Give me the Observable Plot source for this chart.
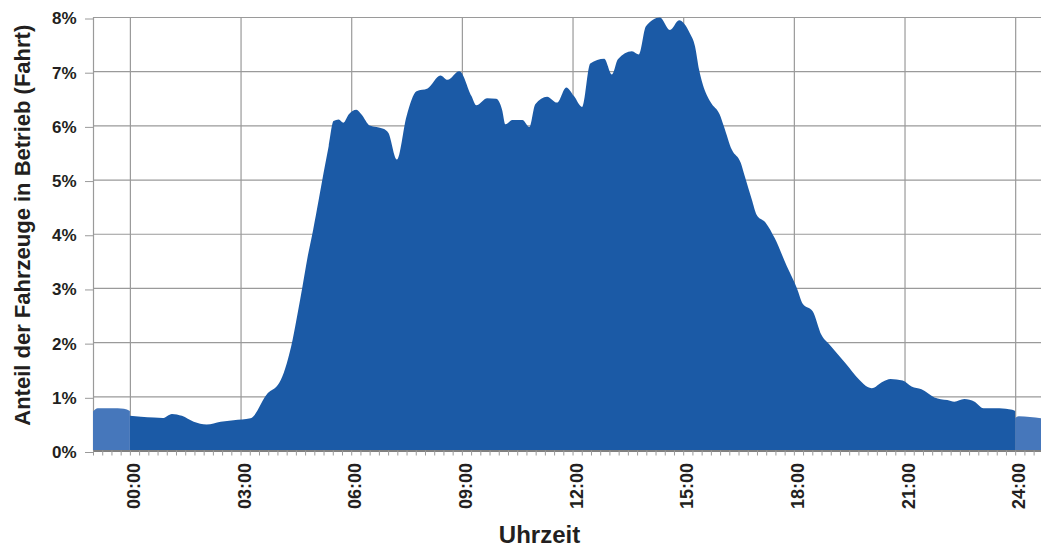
<!DOCTYPE html>
<html>
<head>
<meta charset="utf-8">
<script src="https://cdn.jsdelivr.net/npm/d3@7"></script>
<script src="https://cdn.jsdelivr.net/npm/@observablehq/plot@0.6"></script>
<style>
  html, body { margin: 0; padding: 0; background: #fff; }
  svg { display: block; }
</style>
</head>
<body>
<div id="chart"></div>
<script>
// Time of day in hours, share of vehicles in operation (%)
const dayHours = [0.00, 0.30, 0.65, 0.89, 1.14, 1.41, 1.73, 2.08, 2.46, 2.81, 3.27, 3.74, 4.01, 4.09, 4.25, 4.41, 4.55, 4.68, 4.82, 4.97, 5.12, 5.25, 5.39, 5.52, 5.66, 5.79, 5.93, 6.14, 6.28, 6.50, 6.87, 7.01, 7.24, 7.50, 7.77, 8.07, 8.42, 8.61, 8.93, 9.26, 9.39, 9.69, 9.93, 10.09, 10.18, 10.37, 10.64, 10.83, 10.99, 11.31, 11.58, 11.83, 12.04, 12.26, 12.48, 12.86, 13.07, 13.23, 13.61, 13.80, 13.99, 14.37, 14.64, 14.89, 15.18, 15.32, 15.43, 15.53, 15.75, 15.99, 16.10, 16.32, 16.56, 16.67, 16.86, 16.99, 17.24, 17.48, 17.81, 18.08, 18.24, 18.51, 18.75, 18.97, 19.40, 19.78, 20.00, 20.11, 20.41, 20.62, 20.95, 21.19, 21.46, 21.81, 22.16, 22.35, 22.62, 22.90, 23.14, 23.57, 23.92, 24.00];
const dayShare = [0.64, 0.625, 0.61, 0.60, 0.675, 0.64, 0.53, 0.48, 0.53, 0.56, 0.595, 1.06, 1.21, 1.30, 1.60, 2.04, 2.54, 3.03, 3.58, 4.08, 4.63, 5.12, 5.62, 6.08, 6.11, 6.05, 6.20, 6.29, 6.20, 6.00, 5.94, 5.86, 5.37, 6.17, 6.63, 6.68, 6.92, 6.84, 7.00, 6.54, 6.37, 6.50, 6.49, 6.29, 6.02, 6.10, 6.10, 5.97, 6.39, 6.53, 6.42, 6.70, 6.54, 6.34, 7.14, 7.23, 6.94, 7.22, 7.37, 7.31, 7.83, 7.99, 7.76, 7.94, 7.70, 7.46, 7.03, 6.76, 6.42, 6.20, 5.99, 5.55, 5.31, 5.06, 4.63, 4.35, 4.20, 3.92, 3.40, 3.00, 2.71, 2.57, 2.13, 1.95, 1.61, 1.30, 1.17, 1.15, 1.27, 1.32, 1.29, 1.18, 1.13, 0.98, 0.93, 0.90, 0.95, 0.90, 0.78, 0.78, 0.75, 0.73];

// Wrap-around segments (previous / next day), lighter blue
const prevHours = [-1.00, -0.87, -0.33, -0.16, 0.00];
const prevShare = [0.72, 0.78, 0.78, 0.77, 0.73];
const nextHours = [24.00, 24.10, 24.40, 24.70];
const nextShare = [0.60, 0.63, 0.62, 0.595];

const xTickHours = [0, 3, 6, 9, 12, 15, 18, 21, 24];
const xTickLabels = ["00:00", "03:00", "06:00", "09:00", "12:00", "15:00", "18:00", "21:00", "24:00"];
const yTicks = [0, 1, 2, 3, 4, 5, 6, 7, 8];
const yTickLabels = ["0%", "1%", "2%", "3%", "4%", "5%", "6%", "7%", "8%"];
const xTitle = "Uhrzeit";
const yTitle = "Anteil der Fahrzeuge in Betrieb (Fahrt)";

const day = dayHours.map((h, i) => ({h, v: dayShare[i]}));
const prev = prevHours.map((h, i) => ({h, v: prevShare[i]}));
const next = nextHours.map((h, i) => ({h, v: nextShare[i]}));
const minorTicks = d3.range(-1, 24.76, 0.25);

const dark = "#1b5aa6";
const light = "#4677bb";
const grid = "#9a9a9a";
const ink = "#231f20";
const font = "'Liberation Sans', Arial, Helvetica, sans-serif";

const chart = Plot.plot({
  width: 1041,
  height: 547,
  marginLeft: 93,
  marginRight: 0,
  marginTop: 17,
  marginBottom: 96.5,
  style: {fontFamily: font, color: ink, background: "#fff"},
  x: {domain: [-1, 24.7], axis: null, label: null},
  y: {domain: [0, 8], axis: null, label: null},
  marks: [
    Plot.gridY(yTicks, {stroke: grid, strokeOpacity: 1, strokeWidth: 1.2}),
    Plot.gridX(xTickHours, {stroke: grid, strokeOpacity: 1, strokeWidth: 1.2}),
    Plot.ruleX([-1], {stroke: grid, strokeWidth: 1.2}),
    Plot.areaY(prev, {x: "h", y: "v", fill: light, curve: "monotone-x"}),
    Plot.areaY(next, {x: "h", y: "v", fill: light, curve: "monotone-x"}),
    Plot.areaY(day, {x: "h", y: "v", fill: dark, curve: "monotone-x"}),
    Plot.ruleY([0], {stroke: "#808080", strokeWidth: 2}),
    Plot.axisX(minorTicks, {tickSize: 5, text: null, label: null, stroke: grid, strokeWidth: 1}),
    Plot.axisX(xTickHours, {
      tickSize: 0, tickPadding: 12, tickRotate: -90, dx: 4, label: null,
      tickFormat: (d) => xTickLabels[xTickHours.indexOf(d)],
      fontSize: 18, fontWeight: "bold", fill: ink
    }),
    Plot.axisY(yTicks, {
      tickSize: 8, tickPadding: 9, stroke: grid, dy: 1.5, label: null,
      tickFormat: (d) => yTickLabels[yTicks.indexOf(d)],
      fontSize: 17, fontWeight: "bold", fill: ink
    }),
    Plot.text([xTitle], {
      frameAnchor: "bottom", text: (d) => d, dx: -28, dy: 84,
      fontSize: 24, fontWeight: "bold", fill: ink, textAnchor: "middle", lineAnchor: "middle"
    }),
    Plot.text([yTitle], {
      frameAnchor: "left", text: (d) => d, dx: -71, dy: -9, rotate: -90,
      fontSize: 22, fontWeight: "bold", fill: ink, textAnchor: "middle", lineAnchor: "middle"
    })
  ]
});
document.getElementById("chart").appendChild(chart);
</script>
</body>
</html>
